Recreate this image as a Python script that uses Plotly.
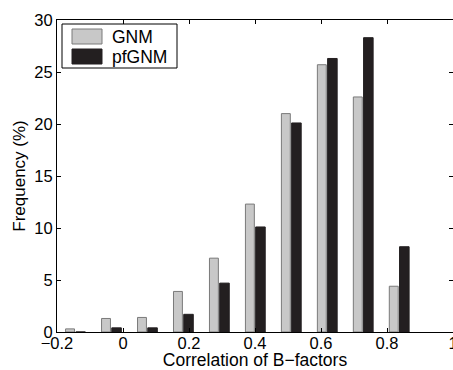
import plotly.graph_objects as go

bin_centers = [-0.143, -0.034, 0.075, 0.184, 0.293, 0.402, 0.511, 0.620, 0.729, 0.838]
gnm = [0.3, 1.3, 1.4, 3.9, 7.1, 12.3, 21.0, 25.7, 22.6, 4.4]
pfgnm = [0.0, 0.4, 0.4, 1.7, 4.7, 10.1, 20.1, 26.3, 28.3, 8.2]
series_names = ["GNM", "pfGNM"]
x_ticks = [-0.2, 0, 0.2, 0.4, 0.6, 0.8, 1]
x_ticklabels = ["\u22120.2", "0", "0.2", "0.4", "0.6", "0.8", "1"]
y_ticks = [0, 5, 10, 15, 20, 25, 30]

FONT = "Liberation Sans, Arial, sans-serif"
GRAY = "#c8c8c8"
GRAY_EDGE = "#7a7a7a"
DARK = "#231f20"

W, H = 453, 370
ML, MR, MT, MB = 57, 0, 20, 38
PW, PH = W - ML - MR, H - MT - MB


def px_x(px):
    return (px - ML) / PW


def px_y(py):
    return (H - MB - py) / PH


fig = go.Figure()
fig.add_trace(go.Bar(
    x=bin_centers, y=gnm, name=series_names[0],
    offset=-0.031, width=0.027,
    marker=dict(color=GRAY, line=dict(color=GRAY_EDGE, width=1)),
    showlegend=False,
))
fig.add_trace(go.Bar(
    x=bin_centers, y=pfgnm, name=series_names[1],
    offset=0.0, width=0.029,
    marker=dict(color=DARK, line=dict(color=DARK, width=1)),
    showlegend=False,
))

axis_common = dict(
    showline=True, linecolor="black", linewidth=1, mirror="ticks",
    ticks="inside", ticklen=4, tickcolor="black",
    showgrid=False, zeroline=False, automargin=False,
    tickfont=dict(family=FONT, size=16.5, color="black"),
)

# legend box drawn in paper coordinates
shapes = [
    dict(type="rect", xref="paper", yref="paper",
         x0=px_x(62), x1=px_x(177), y0=px_y(68), y1=px_y(24),
         line=dict(color="black", width=1), fillcolor="white", layer="above"),
    dict(type="rect", xref="paper", yref="paper",
         x0=px_x(72), x1=px_x(102), y0=px_y(44), y1=px_y(29),
         line=dict(color=GRAY_EDGE, width=1), fillcolor=GRAY, layer="above"),
    dict(type="rect", xref="paper", yref="paper",
         x0=px_x(72), x1=px_x(102), y0=px_y(64), y1=px_y(49),
         line=dict(color=DARK, width=1), fillcolor=DARK, layer="above"),
]
annotations = [
    dict(text=series_names[0], xref="paper", yref="paper",
         x=px_x(110), y=px_y(36.5), xanchor="left", yanchor="middle",
         showarrow=False, font=dict(family=FONT, size=17.5, color="black")),
    dict(text=series_names[1], xref="paper", yref="paper",
         x=px_x(110), y=px_y(56.5), xanchor="left", yanchor="middle",
         showarrow=False, font=dict(family=FONT, size=17.5, color="black")),
]

fig.update_layout(
    width=W, height=H,
    margin=dict(l=ML, r=MR, t=MT, b=MB),
    paper_bgcolor="white", plot_bgcolor="white",
    barmode="overlay",
    font=dict(family=FONT, size=16, color="black"),
    showlegend=False,
    shapes=shapes,
    annotations=annotations,
    xaxis=dict(
        range=[-0.2, 1.0], tickvals=x_ticks, ticktext=x_ticklabels,
        ticklabeloverflow="allow", ticklabelstandoff=-4,
        title=dict(text="Correlation of B\u2212factors", standoff=0,
                   font=dict(family=FONT, size=17.5, color="black")),
        **axis_common,
    ),
    yaxis=dict(
        range=[0, 30], tickvals=y_ticks,
        title=dict(text="Frequency (%)", standoff=4,
                   font=dict(family=FONT, size=17, color="black")),
        **axis_common,
    ),
)

fig.write_html("out.html")
